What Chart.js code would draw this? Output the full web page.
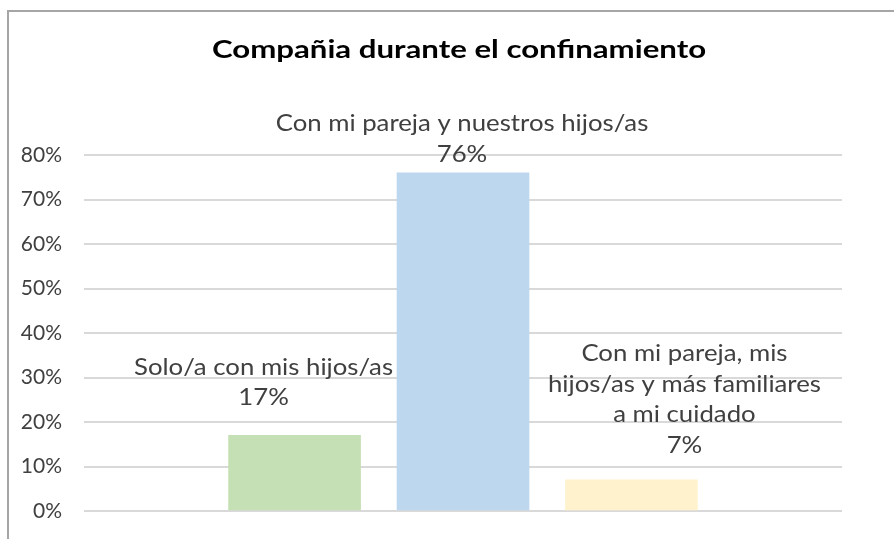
<!DOCTYPE html>
<html>
<head>
<meta charset="utf-8">
<script src="https://cdn.jsdelivr.net/npm/chart.js@4.4.1/dist/chart.umd.min.js"></script>
<style>
  html, body { margin: 0; padding: 0; background: #fff; }
  #wrap { position: relative; width: 894px; height: 539px; }
  #frame { position: absolute; left: 7px; top: 10px; right: 0; bottom: 0; border-left: 2px solid #a6a6a6; border-top: 2px solid #a6a6a6; }
  canvas { position: absolute; left: 0; top: 0; }
</style>
</head>
<body>
<div id="wrap">
  <div id="frame"></div>
  <canvas id="chart" width="894" height="539"></canvas>
</div>
<script>
const chartTitle = 'Compañia durante el confinamiento';
const categories = [
  'Solo/a con mis hijos/as',
  'Con mi pareja y nuestros hijos/as',
  'Con mi pareja, mis hijos/as y más familiares a mi cuidado'
];
// label lines as wrapped in the picture
const labelLines = [
  ['Solo/a con mis hijos/as'],
  ['Con mi pareja y nuestros hijos/as'],
  ['Con mi pareja, mis', 'hijos/as y más familiares', 'a mi cuidado']
];
const shares = [0.17, 0.76, 0.07];
const yTicks = [0, 0.1, 0.2, 0.3, 0.4, 0.5, 0.6, 0.7, 0.8];
const barColors = ['#c5e0b4', '#bdd7ee', '#fff2cc'];

// where each data label sits: shift from bar centre, and baseline gap above bar top
const labelPlacement = [
  { dx: -31, gap: 30 },
  { dx: -1, gap: 11 },
  { dx: 53, gap: 27 }
];

const textColor = '#404040';
const fontName = 'Lato';

function stretchedText(ctx, text, x, y, sx) {
  ctx.save();
  ctx.translate(x, y);
  ctx.scale(sx, 1);
  ctx.fillText(text, 0, 0);
  ctx.restore();
}

const overlay = {
  id: 'overlay',
  afterDraw(chart) {
    const ctx = chart.ctx;
    ctx.save();
    ctx.textAlign = 'center';
    ctx.textBaseline = 'alphabetic';

    // title
    ctx.font = 'bold 24px ' + fontName;
    ctx.fillStyle = '#000';
    stretchedText(ctx, chartTitle, 459, 58, 1.3);

    // data labels
    const bars = chart.getDatasetMeta(0).data;
    ctx.font = '23px ' + fontName;
    ctx.fillStyle = textColor;
    bars.forEach((bar, i) => {
      const p = labelPlacement[i];
      const lines = labelLines[i].concat([Math.round(shares[i] * 100) + '%']);
      const x = bar.x + p.dx;
      let y = bar.y - p.gap - (lines.length - 1) * 30.5;
      lines.forEach(t => {
        stretchedText(ctx, t, x, y, 1.12);
        y += 30.5;
      });
    });
    ctx.restore();
  }
};

new Chart(document.getElementById('chart'), {
  type: 'bar',
  data: {
    datasets: [{
      label: chartTitle,
      data: shares.map((v, i) => ({ x: i, y: v })),
      backgroundColor: barColors,
      barThickness: 132,
      borderWidth: 0
    }]
  },
  options: {
    responsive: false,
    animation: false,
    layout: { padding: { left: 0, top: 155, right: 52, bottom: 28 } },
    plugins: {
      legend: { display: false },
      tooltip: { enabled: false },
      title: { display: false }
    },
    scales: {
      x: {
        type: 'linear',
        display: false,
        offset: false,
        min: -1.25,
        max: 3.25
      },
      y: {
        min: 0,
        max: 0.8,
        afterFit(scale) {
          scale.width = 84;
          scale.paddingTop = 0;
          scale.paddingBottom = 0;
        },
        afterBuildTicks(scale) { scale.ticks = yTicks.map(v => ({ value: v })); },
        border: { display: false },
        grid: { color: '#d9d9d9', lineWidth: 2, drawTicks: false },
        ticks: {
          padding: 22,
          color: textColor,
          font: { family: fontName, size: 21 },
          callback: v => Math.round(v * 100) + '%'
        }
      }
    }
  },
  plugins: [overlay]
});
</script>
</body>
</html>
